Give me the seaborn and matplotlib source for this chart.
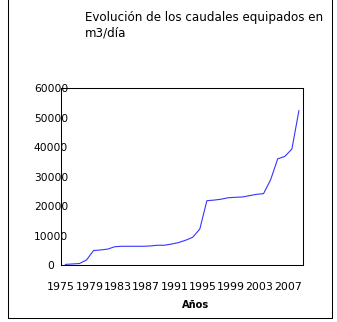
import matplotlib
matplotlib.use('Agg')
import matplotlib.pyplot as plt
import seaborn as sns
import pandas as pd
from matplotlib.lines import Line2D

# ---- data ----
years = [1975, 1976, 1977, 1978, 1979, 1980, 1981, 1982, 1983, 1984,
         1985, 1986, 1987, 1988, 1989, 1990, 1991, 1992, 1993, 1994,
         1995, 1996, 1997, 1998, 1999, 2000, 2001, 2002, 2003, 2004,
         2005, 2006, 2007, 2008]
caudal = [300, 450, 600, 1800, 5000, 5200, 5500, 6300, 6450, 6450,
          6450, 6450, 6550, 6800, 6800, 7200, 7700, 8500, 9500, 12300,
          21900, 22100, 22400, 22900, 23050, 23150, 23600, 24050, 24300, 29000,
          36100, 36900, 39400, 52500]
label_years = [1975, 1979, 1983, 1987, 1991, 1995, 1999, 2003, 2007]
y_ticks = [0, 10000, 20000, 30000, 40000, 50000, 60000]
title = "Evolución de los caudales equipados en\nm3/día"
xlabel = "Años"

sns.set_style('white')
plt.rcParams['font.family'] = ['DejaVu Sans']
plt.rcParams['text.color'] = 'black'
plt.rcParams['xtick.color'] = 'black'
plt.rcParams['ytick.color'] = 'black'
plt.rcParams['axes.labelcolor'] = 'black'

W, H = 337, 322
fig = plt.figure(figsize=(W / 100, H / 100), dpi=100)
fig.patch.set_facecolor('white')
ax = fig.add_axes([61 / W, 1 - 265.3 / H, 241.5 / W, 177 / H])

df = pd.DataFrame({'idx': list(range(len(years))), 'caudal': caudal})
sns.lineplot(data=df, x='idx', y='caudal', ax=ax, color='#3535ff', linewidth=0.8)

ax.set_xlim(-0.5, len(years) - 0.5)
ax.set_ylim(0, 60000)

# y axis
ax.set_yticks(y_ticks)
ax.set_yticklabels([str(v) for v in y_ticks], fontsize=7.7, ha='center', color='black')
ax.tick_params(axis='y', length=2.5, width=0.75, direction='out', color='black', pad=4.7)

# x axis: labels every 4 years, ticks at category boundaries
label_idx = [years.index(y) for y in label_years]
ax.set_xticks([i - 0.6 for i in label_idx])
ax.set_xticklabels([str(y) for y in label_years], fontsize=7.9, color='black')
ax.tick_params(axis='x', which='major', length=0, pad=12)
ax.set_xticks([i - 0.5 for i in range(len(years) + 1)], minor=True)
ax.tick_params(axis='x', which='minor', length=2.5, width=0.75, direction='out', color='black')

for s in ax.spines.values():
    s.set_visible(True)
    s.set_color('black')
    s.set_linewidth(0.75)
ax.set_xlabel('')
ax.set_ylabel('')
ax.grid(False)

# title and axis title
fig.text(85 / W, 1 - 11 / H, title, ha='left', va='top', fontsize=8.6, linespacing=1.2, color='black')
fig.text(196 / W, 1 - 307.7 / H, xlabel, ha='center', va='baseline', fontsize=7.1,
         fontweight='bold', color='black')

# outer chart border
lw = 0.75
fig.add_artist(Line2D([7.5 / W, 7.5 / W], [1 - 317.5 / H, 1.01], transform=fig.transFigure, color='black', lw=lw))
fig.add_artist(Line2D([331.5 / W, 331.5 / W], [1 - 317.5 / H, 1.01], transform=fig.transFigure, color='black', lw=lw))
fig.add_artist(Line2D([7.5 / W, 331.5 / W], [1 - 317.5 / H, 1 - 317.5 / H], transform=fig.transFigure, color='black', lw=lw))

fig.savefig('out.png', dpi=100)
